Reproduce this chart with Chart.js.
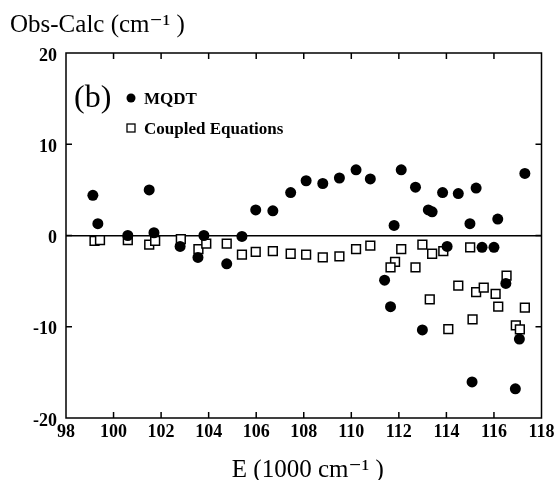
<!DOCTYPE html>
<html><head><meta charset="utf-8">
<script src="https://cdn.jsdelivr.net/npm/chart.js@4/dist/chart.umd.min.js"></script>
<style>html,body{margin:0;padding:0;background:#fff}#wrap{width:557px;height:480px}</style>
</head><body><div id="wrap"><canvas id="c" width="557" height="480"></canvas></div>
<script>
const xTickValues = [98,100,102,104,106,108,110,112,114,116,118];
const yTickValues = [-20,-10,0,10,20];
const mqdtE = [99.13,99.34,100.6,101.5,101.7,102.8,103.55,103.8,104.76,105.4,105.98,106.7,107.45,108.1,108.8,109.5,110.2,110.8,111.8,112.1,112.7,113.24,113.4,113.84,114.5,114.99,115.25,116.16,117.3,114.03,115.5,116.0,111.4,116.5,111.65,112.99,115.08,116.9,117.07];
const mqdtD = [4.4,1.3,0.0,5.0,0.3,-1.2,-2.4,0.0,-3.1,-0.1,2.8,2.7,4.7,6.0,5.7,6.3,7.2,6.2,1.1,7.2,5.3,2.8,2.6,4.7,4.6,1.3,5.2,1.8,6.8,-1.2,-1.3,-1.3,-4.9,-5.25,-7.8,-10.35,-16.05,-16.8,-11.35];
const ceE = [99.2,99.43,100.6,101.5,101.75,102.83,103.57,103.9,104.76,105.4,105.98,106.7,107.45,108.1,108.8,109.5,110.2,110.8,112.1,112.99,113.4,113.87,115.0,111.84,111.65,112.7,114.5,115.25,115.57,116.07,116.53,113.3,116.18,117.3,114.08,115.1,116.92,117.09];
const ceD = [-0.6,-0.5,-0.5,-1.0,-0.6,-0.4,-1.5,-0.9,-0.9,-2.1,-1.8,-1.7,-2.0,-2.1,-2.4,-2.3,-1.5,-1.1,-1.5,-1.0,-2.0,-1.7,-1.3,-2.9,-3.5,-3.5,-5.5,-6.2,-5.7,-6.4,-4.4,-7.0,-7.8,-7.9,-10.25,-9.2,-9.85,-10.3];
const seriesNames = ['MQDT','Coupled Equations'];
const panelLabel = '(b)';
const yTitle = 'Obs-Calc (cm\u207B\u00B9 )';
const xTitle = 'E (1000 cm\u207B\u00B9 )';

const FONT = '"Liberation Serif", "DejaVu Serif", serif';

const decor = {
  id: 'decor',
  afterDraw(chart) {
    const {ctx, chartArea: a, scales: {x, y}} = chart;
    ctx.save();
    ctx.strokeStyle = '#000';
    ctx.lineWidth = 1.5;
    ctx.strokeRect(a.left, a.top, a.right - a.left, a.bottom - a.top);
    const L = 6;
    ctx.beginPath();
    xTickValues.slice(1, -1).forEach(v => {
      const px = x.getPixelForValue(v);
      ctx.moveTo(px, a.bottom); ctx.lineTo(px, a.bottom - L);
      ctx.moveTo(px, a.top); ctx.lineTo(px, a.top + L);
    });
    yTickValues.slice(1, -1).forEach(v => {
      const py = y.getPixelForValue(v);
      ctx.moveTo(a.left, py); ctx.lineTo(a.left + L, py);
      ctx.moveTo(a.right, py); ctx.lineTo(a.right - L, py);
    });
    ctx.stroke();
    // titles
    ctx.fillStyle = '#000';
    ctx.font = '25px ' + FONT;
    ctx.textBaseline = 'alphabetic';
    ctx.textAlign = 'left';
    ctx.fillText(yTitle, 10, 32);
    ctx.textAlign = 'center';
    ctx.fillText(xTitle, (a.left + a.right) / 2 + 4, 477);
    // legend
    ctx.textAlign = 'left';
    ctx.font = '32px ' + FONT;
    ctx.fillText(panelLabel, 74, 107);
    ctx.beginPath();
    ctx.arc(131, 98, 4.5, 0, Math.PI * 2);
    ctx.fill();
    ctx.font = 'bold 17px ' + FONT;
    ctx.fillText(seriesNames[0], 144, 104);
    ctx.lineWidth = 1.3;
    ctx.strokeRect(127, 124, 8, 8);
    ctx.fillText(seriesNames[1], 144, 134);
    ctx.restore();
  }
};

new Chart(document.getElementById('c'), {
  type: 'scatter',
  data: {
    datasets: [
      {
        label: seriesNames[0],
        data: mqdtE.map((e, i) => ({x: e, y: mqdtD[i]})),
        pointStyle: 'circle', pointRadius: 5.5, pointHoverRadius: 5.5,
        backgroundColor: '#000', borderColor: '#000', borderWidth: 0
      },
      {
        label: seriesNames[1],
        data: ceE.map((e, i) => ({x: e, y: ceD[i]})),
        pointStyle: 'rect', pointRadius: 6.2, pointHoverRadius: 6.2,
        backgroundColor: '#fff', borderColor: '#000', borderWidth: 1.5
      }
    ]
  },
  options: {
    responsive: false, animation: false, devicePixelRatio: 1,
    layout: {padding: {left: 0, right: 15.5, top: 53, bottom: 0}},
    plugins: {legend: {display: false}, tooltip: {enabled: false}},
    scales: {
      x: {
        type: 'linear', min: 98, max: 118,
        afterFit: s => { s.height = 62; s.paddingLeft = 0; s.paddingRight = 0; },
        afterBuildTicks: s => { s.ticks = xTickValues.map(v => ({value: v})); },
        grid: {display: false, drawTicks: false},
        border: {display: false},
        ticks: {color: '#000', font: {family: FONT, size: 18, weight: 'bold'}, padding: 4, maxRotation: 0}
      },
      y: {
        type: 'linear', min: -20, max: 20,
        afterFit: s => { s.width = 66; s.paddingTop = 0; s.paddingBottom = 0; },
        afterBuildTicks: s => { s.ticks = yTickValues.map(v => ({value: v})); },
        grid: {drawTicks: false, lineWidth: 1.5, color: c => (c.tick && c.tick.value === 0) ? '#000' : 'rgba(0,0,0,0)'},
        border: {display: false},
        ticks: {color: '#000', font: {family: FONT, size: 18, weight: 'bold'}, padding: 9, labelOffset: 3}
      }
    }
  },
  plugins: [decor]
});
</script></body></html>
